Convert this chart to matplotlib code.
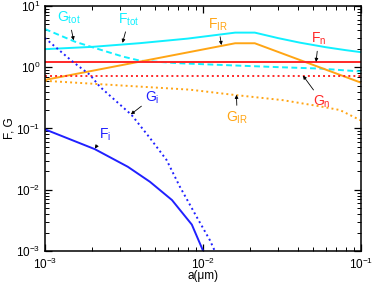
import matplotlib
matplotlib.use("Agg")
import matplotlib.pyplot as plt

plt.rcParams["font.family"] = ["Liberation Sans", "DejaVu Sans"]
plt.rcParams["mathtext.default"] = "regular"

# grain radius grids (micron) and values
a_fir = [0.001, 0.016, 0.0213, 0.1]
f_ir = [0.62, 2.46, 2.46, 0.56]

a_fn = [0.001, 0.1]
f_n = [1.2, 1.2]
g_n = [0.72, 0.72]

a_fi = [0.001, 0.00207, 0.00335, 0.00462, 0.00637, 0.00851, 0.01004]
f_i = [0.097, 0.046, 0.0237, 0.0135, 0.0068, 0.0027, 0.001]

a_ftot = [0.001, 0.002, 0.004, 0.008, 0.016, 0.0213, 0.03, 0.041, 0.06, 0.08, 0.1]
f_tot = [1.97, 2.15, 2.47, 2.93, 3.67, 3.67, 2.98, 2.52, 2.12, 1.9, 1.76]

a_gir = [0.001, 0.0028, 0.00828, 0.0155, 0.032, 0.055, 0.0736, 0.1]
g_ir = [0.6, 0.51, 0.43, 0.355, 0.29, 0.23, 0.2, 0.135]

a_gi = [0.001, 0.0015, 0.00193, 0.00223, 0.00354, 0.00462, 0.00589, 0.00715,
        0.00912, 0.01106, 0.0119]
g_i = [3.0, 1.23, 0.75, 0.48, 0.166, 0.070, 0.0306, 0.0112, 0.00363, 0.00151, 0.001]

a_gtot = [0.001, 0.00155, 0.00193, 0.00247, 0.00312, 0.00399, 0.00715, 0.0155,
          0.0307, 0.0551, 0.0944, 0.1]
g_tot = [4.2, 2.61, 2.18, 1.79, 1.49, 1.28, 1.16, 1.07, 1.0, 0.95, 0.86, 0.85]

CYAN = "#10f0ff"
ORANGE = "#ffa514"
RED = "#ff2828"
BLUE = "#2020ff"

fig = plt.figure(figsize=(3.74, 2.83), dpi=100)
ax = fig.add_axes([0.120, 0.113, 0.845, 0.866])

lw = 1.4
ax.plot(a_ftot, f_tot, color=CYAN, lw=lw)
ax.plot(a_gtot, g_tot, color=CYAN, lw=lw, dashes=(3, 1.8))
ax.plot(a_fir, f_ir, color=ORANGE, lw=lw)
ax.plot(a_gir, g_ir, color=ORANGE, lw=lw, dashes=(1, 1.6))
ax.plot(a_fn, f_n, color=RED, lw=lw)
ax.plot(a_fn, g_n, color=RED, lw=lw, dashes=(1, 1.6))
ax.plot(a_fi, f_i, color=BLUE, lw=lw)
ax.plot(a_gi, g_i, color=BLUE, lw=lw, dashes=(1, 1.6))

ax.set_xscale("log")
ax.set_yscale("log")
ax.set_xlim(1e-3, 1e-1)
ax.set_ylim(1e-3, 10)

for s in ax.spines.values():
    s.set_linewidth(1.1)
ax.tick_params(which="both", direction="in", top=True, right=True, labelsize=8.5, pad=3)
ax.tick_params(axis="x", which="both", pad=4)
ax.tick_params(which="major", length=5, width=0.9)
ax.tick_params(which="minor", length=3, width=0.7)
ax.set_xlabel("a(μm)", fontsize=8.5, labelpad=-1)
ax.set_ylabel("F, G", fontsize=8.5, labelpad=1)

arrow = dict(arrowstyle="-|>", color="black", lw=0.6, mutation_scale=5, shrinkA=1, shrinkB=0)
labels = [
    ("$G_{tot}$", CYAN, (0.00142, 6.4), (0.00152, 2.75)),
    ("$F_{tot}$", CYAN, (0.0034, 6.0), (0.0031, 2.5)),
    ("$F_{IR}$", ORANGE, (0.0125, 5.0), (0.0131, 2.3)),
    ("$F_n$", RED, (0.054, 2.9), (0.052, 1.22)),
    ("$G_n$", RED, (0.057, 0.27), (0.043, 0.73)),
    ("$G_{IR}$", ORANGE, (0.0165, 0.15), (0.0163, 0.355)),
    ("$G_i$", BLUE, (0.0048, 0.32), (0.0035, 0.17)),
    ("$F_i$", BLUE, (0.00240, 0.080), (0.00207, 0.047)),
]
for text, color, xytext, xy in labels:
    ax.annotate(text, xy=xy, xytext=xytext, color=color, fontsize=10,
                ha="center", va="center", arrowprops=arrow)

fig.savefig("out.png", dpi=100)
